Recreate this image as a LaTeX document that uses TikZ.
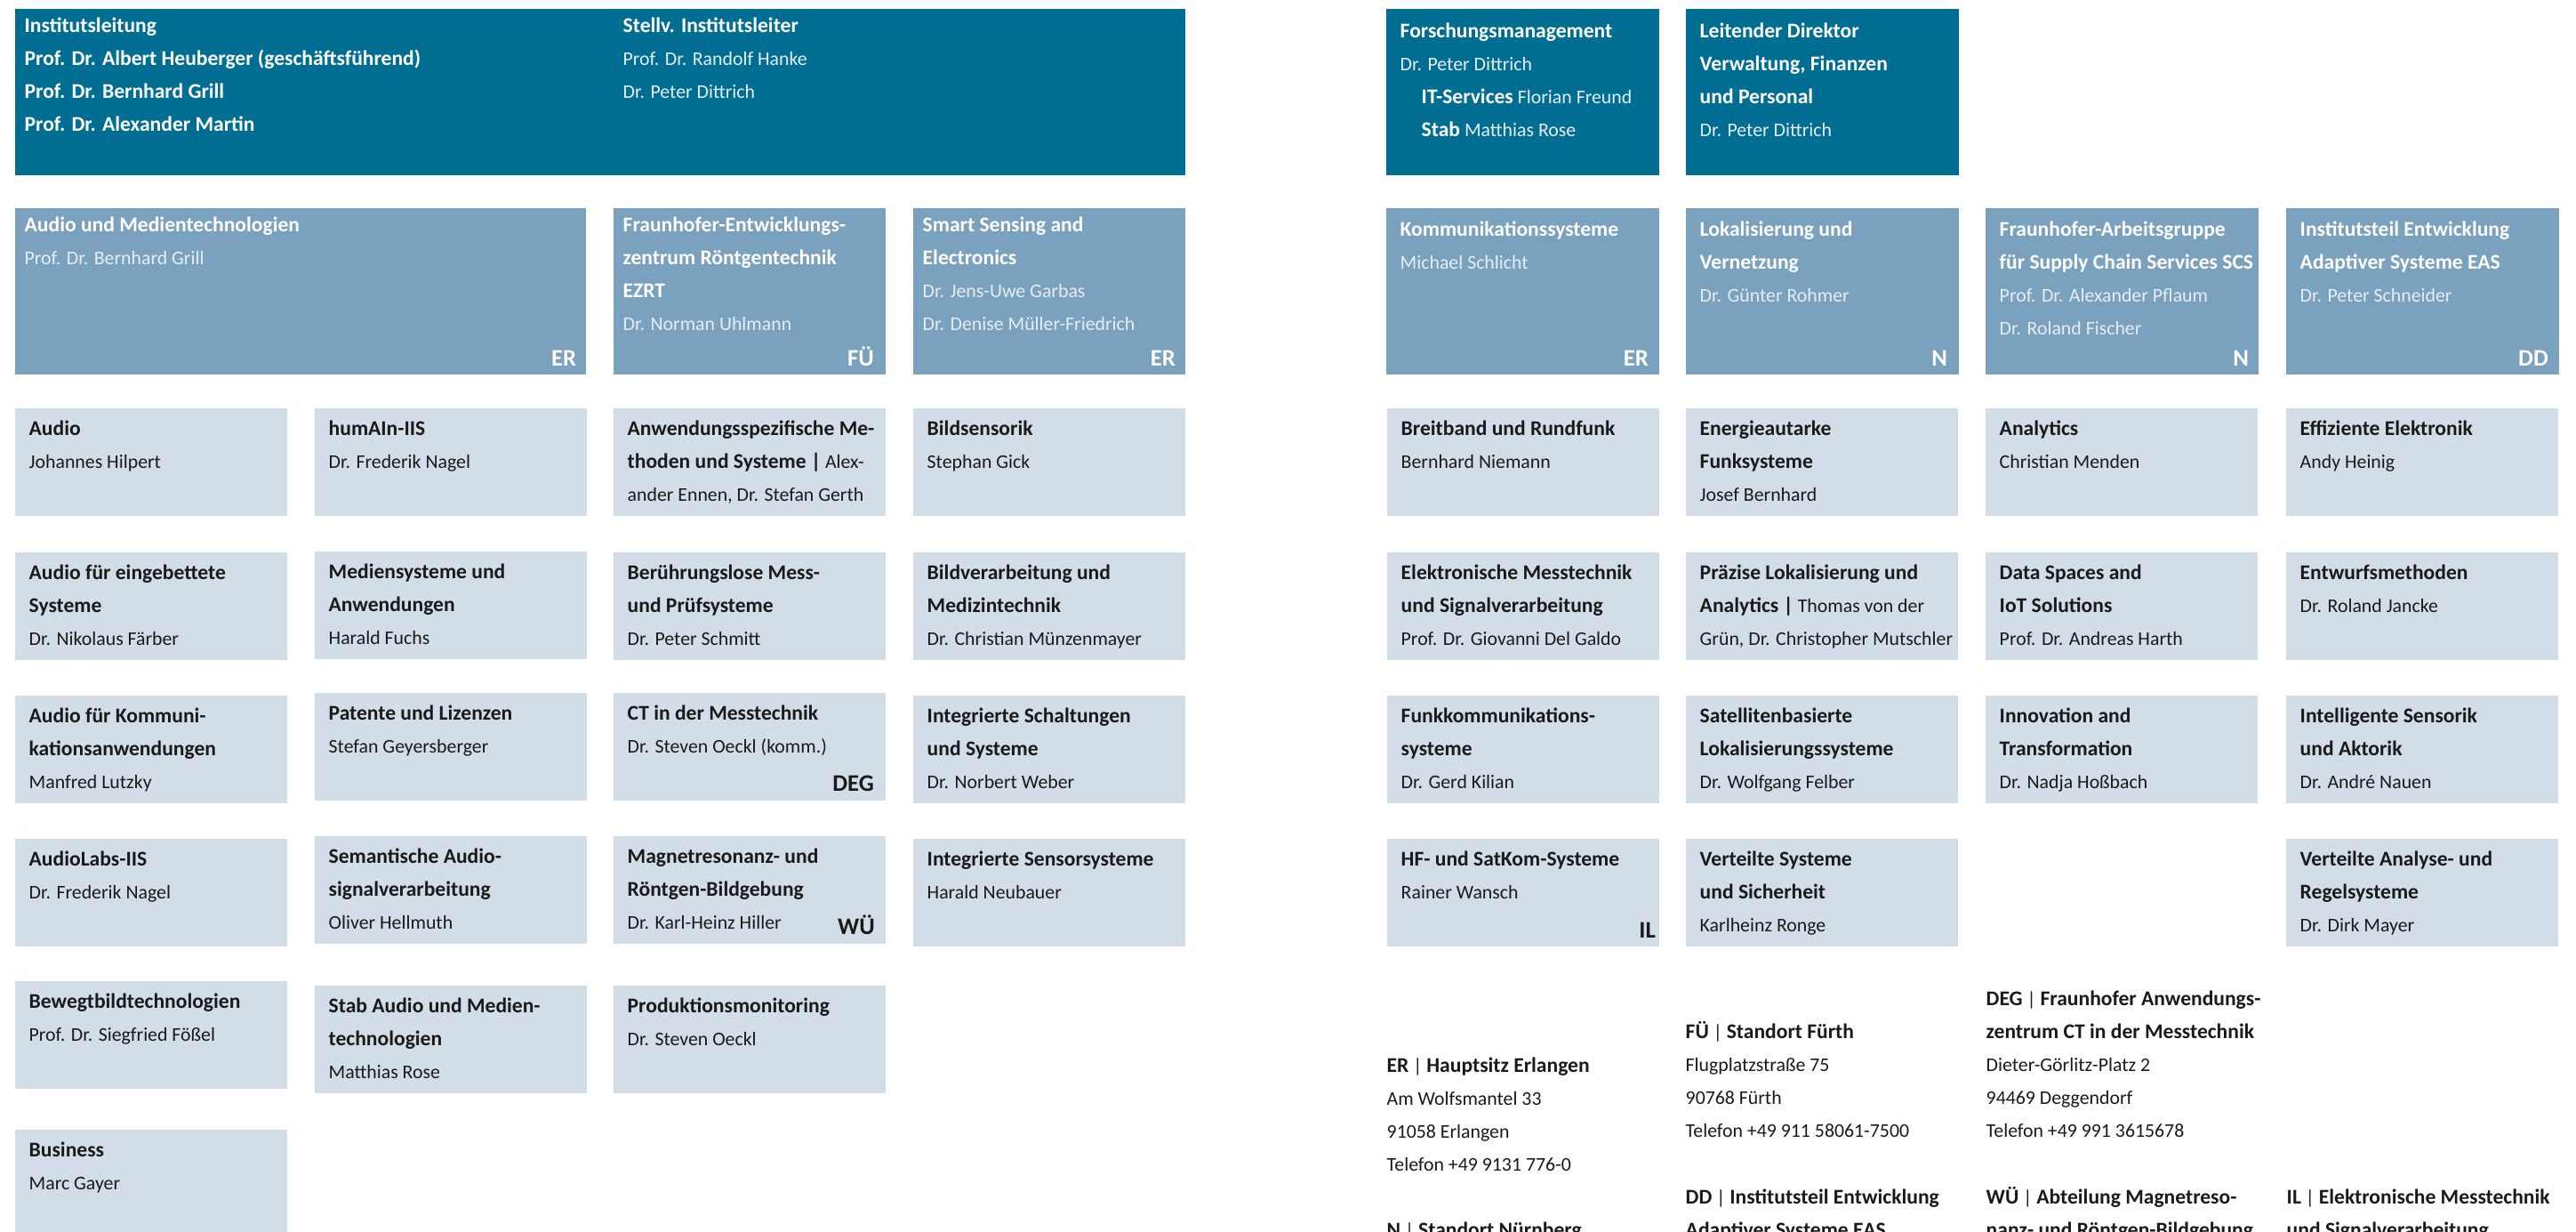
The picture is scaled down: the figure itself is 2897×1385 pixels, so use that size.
\documentclass[tikz,border=0pt]{standalone}
\usepackage{fontspec}
\setmainfont{Carlito}
\usetikzlibrary{positioning}

\definecolor{iisdunkel}{HTML}{006E92}
\definecolor{iismittel}{HTML}{7AA1BD}
\definecolor{iishell}{HTML}{D3DDE8}
\definecolor{iisname}{HTML}{E6EDF3}
\definecolor{iistext}{HTML}{1A1A1A}

\tikzstyle{leitung} = [rectangle, fill=iisdunkel, anchor=north west, inner sep=0pt, minimum width=3.07cm, minimum height=1.87cm]
\tikzstyle{bereich} = [rectangle, fill=iismittel, anchor=north west, inner sep=0pt, minimum width=3.07cm, minimum height=1.87cm]
\tikzstyle{abteilung} = [rectangle, fill=iishell, anchor=north west, inner sep=0pt, minimum width=3.06cm, minimum height=1.21cm]
\tikzstyle{schrift} = [anchor=north west, inner sep=0pt, align=left, font=\fontsize{6.2}{10.5}\selectfont]
\tikzstyle{ort} = [anchor=base east, inner sep=0pt, font=\fontsize{7.6}{9}\selectfont\bfseries]

% first baseline 0.22cm below the top of a text node
\newcommand{\zeile}{\rule{0pt}{0.22cm}}
\newcommand{\fett}[1]{{\fontsize{6.7}{10.5}\selectfont\bfseries #1}}
\newcommand{\hellname}[1]{{\color{iisname}#1}}
% Abteilung: Name, x, y, Text
\newcommand{\abteil}[4]{%
  \node (#1) [abteilung] at (#2,#3) {};
  \node (#1-t) [schrift, text=iistext] at ([shift={(16,9)}]#1.north west) {\zeile #4};}

\begin{document}
\begin{tikzpicture}[x=0.01cm, y=-0.01cm]
\useasboundingbox (0,0) rectangle (2897,1385);

% Leitung
\node (leitung) [leitung, minimum width=13.16cm] at (16,9) {};
\node (leitung-t) [schrift, text=white] at ([shift={(11,5)}]leitung.north west) {\zeile\fett{Institutsleitung}\\\fett{Prof. Dr. Albert Heuberger (geschäftsführend)}\\\fett{Prof. Dr. Bernhard Grill}\\\fett{Prof. Dr. Alexander Martin}};
\node (stellv-t) [schrift, text=white] at ([shift={(684,5)}]leitung.north west) {\zeile\fett{Stellv. Institutsleiter}\\\hellname{Prof. Dr. Randolf Hanke}\\\hellname{Dr. Peter Dittrich}};
\node (forschung) [leitung] at (1558,9) {};
\node (forschung-t) [schrift, text=white] at ([shift={(16,11)}]forschung.north west) {\zeile\fett{Forschungsmanagement}\\\hellname{Dr. Peter Dittrich}\\\hspace*{0.24cm}\fett{IT-Services} \hellname{Florian Freund}\\\hspace*{0.24cm}\fett{Stab} \hellname{Matthias Rose}};
\node (verwaltung) [leitung] at (1895,9) {};
\node (verwaltung-t) [schrift, text=white] at ([shift={(16,11)}]verwaltung.north west) {\zeile\fett{Leitender Direktor}\\\fett{Verwaltung, Finanzen}\\\fett{und Personal}\\\hellname{Dr. Peter Dittrich}};

% Bereiche
\node (audiomedien) [bereich, minimum width=6.42cm] at (16,233) {};
\node (audiomedien-t) [schrift, text=white] at ([shift={(11,5)}]audiomedien.north west) {\zeile\fett{Audio und Medientechnologien}\\\hellname{Prof. Dr. Bernhard Grill}};
\node (ezrt) [bereich, minimum width=3.06cm] at (689,233) {};
\node (ezrt-t) [schrift, text=white] at ([shift={(11,5)}]ezrt.north west) {\zeile\fett{Fraunhofer-Entwicklungs-}\\\fett{zentrum Röntgentechnik}\\\fett{EZRT}\\\hellname{Dr. Norman Uhlmann}};
\node (smart) [bereich, minimum width=3.06cm] at (1026,233) {};
\node (smart-t) [schrift, text=white] at ([shift={(11,5)}]smart.north west) {\zeile\fett{Smart Sensing and}\\\fett{Electronics}\\\hellname{Dr. Jens-Uwe Garbas}\\\hellname{Dr. Denise Müller-Friedrich}};
\node (komm) [bereich] at (1558,233) {};
\node (komm-t) [schrift, text=white] at ([shift={(16,10)}]komm.north west) {\zeile\fett{Kommunikationssysteme}\\\hellname{Michael Schlicht}};
\node (lokal) [bereich] at (1895,233) {};
\node (lokal-t) [schrift, text=white] at ([shift={(16,10)}]lokal.north west) {\zeile\fett{Lokalisierung und}\\\fett{Vernetzung}\\\hellname{Dr. Günter Rohmer}};
\node (scs) [bereich] at (2232,233) {};
\node (scs-t) [schrift, text=white] at ([shift={(16,10)}]scs.north west) {\zeile\fett{Fraunhofer-Arbeitsgruppe}\\\fett{für Supply Chain Services SCS}\\\hellname{Prof. Dr. Alexander Pflaum}\\\hellname{Dr. Roland Fischer}};
\node (eas) [bereich] at (2570,233) {};
\node (eas-t) [schrift, text=white] at ([shift={(16,10)}]eas.north west) {\zeile\fett{Institutsteil Entwicklung}\\\fett{Adaptiver Systeme EAS}\\\hellname{Dr. Peter Schneider}};

\node (audiomedien-ort) [ort, text=white] at ([shift={(-11,-10)}]audiomedien.south east) {ER};
\node (ezrt-ort) [ort, text=white] at ([shift={(-13,-10)}]ezrt.south east) {FÜ};
\node (smart-ort) [ort, text=white] at ([shift={(-11,-10)}]smart.south east) {ER};
\node (komm-ort) [ort, text=white] at ([shift={(-12,-10)}]komm.south east) {ER};
\node (lokal-ort) [ort, text=white] at ([shift={(-13,-10)}]lokal.south east) {N};
\node (scs-ort) [ort, text=white] at ([shift={(-11,-10)}]scs.south east) {N};
\node (eas-ort) [ort, text=white] at ([shift={(-12,-10)}]eas.south east) {DD};

% Abteilungen Audio und Medien
\abteil{audio}{16}{458}{\fett{Audio}\\Johannes Hilpert}
\abteil{eingebettet}{16}{620}{\fett{Audio für eingebettete}\\\fett{Systeme}\\Dr. Nikolaus Färber}
\abteil{kommanw}{16}{781}{\fett{Audio für Kommuni-}\\\fett{kationsanwendungen}\\Manfred Lutzky}
\abteil{audiolabs}{16}{942}{\fett{AudioLabs-IIS}\\Dr. Frederik Nagel}
\abteil{bewegtbild}{16}{1102}{\fett{Bewegtbildtechnologien}\\Prof. Dr. Siegfried Fößel}
\abteil{business}{16}{1269}{\fett{Business}\\Marc Gayer}
\abteil{humain}{353}{458}{\fett{humAIn-IIS}\\Dr. Frederik Nagel}
\abteil{mediensys}{353}{619}{\fett{Mediensysteme und}\\\fett{Anwendungen}\\Harald Fuchs}
\abteil{patente}{353}{778}{\fett{Patente und Lizenzen}\\Stefan Geyersberger}
\abteil{semantik}{353}{939}{\fett{Semantische Audio-}\\\fett{signalverarbeitung}\\Oliver Hellmuth}
\abteil{stabaudio}{353}{1107}{\fett{Stab Audio und Medien-}\\\fett{technologien}\\Matthias Rose}

% Abteilungen EZRT
\abteil{anwendung}{689}{458}{\fett{Anwendungsspezifische Me-}\\\fett{thoden und Systeme |} Alex-\\ander Ennen, Dr. Stefan Gerth}
\abteil{pruef}{689}{620}{\fett{Berührungslose Mess-}\\\fett{und Prüfsysteme}\\Dr. Peter Schmitt}
\abteil{ct}{689}{778}{\fett{CT in der Messtechnik}\\Dr. Steven Oeckl (komm.)}
\abteil{mr}{689}{939}{\fett{Magnetresonanz- und}\\\fett{Röntgen-Bildgebung}\\Dr. Karl-Heinz Hiller}
\abteil{produktion}{689}{1107}{\fett{Produktionsmonitoring}\\Dr. Steven Oeckl}
\node (ct-ort) [ort, text=iistext] at ([shift={(-13,-11)}]ct.south east) {DEG};
\node (mr-ort) [ort, text=iistext] at ([shift={(-12,-11)}]mr.south east) {WÜ};

% Abteilungen Smart Sensing
\abteil{bildsensor}{1026}{458}{\fett{Bildsensorik}\\Stephan Gick}
\abteil{bildverarb}{1026}{620}{\fett{Bildverarbeitung und}\\\fett{Medizintechnik}\\Dr. Christian Münzenmayer}
\abteil{schaltung}{1026}{781}{\fett{Integrierte Schaltungen}\\\fett{und Systeme}\\Dr. Norbert Weber}
\abteil{sensorsys}{1026}{942}{\fett{Integrierte Sensorsysteme}\\Harald Neubauer}

% Abteilungen Kommunikation
\abteil{breitband}{1559}{458}{\fett{Breitband und Rundfunk}\\Bernhard Niemann}
\abteil{messtechnik}{1559}{620}{\fett{Elektronische Messtechnik}\\\fett{und Signalverarbeitung}\\Prof. Dr. Giovanni Del Galdo}
\abteil{funkkomm}{1559}{781}{\fett{Funkkommunikations-}\\\fett{systeme}\\Dr. Gerd Kilian}
\abteil{hf}{1559}{942}{\fett{HF- und SatKom-Systeme}\\Rainer Wansch}
\node (hf-ort) [ort, text=iistext] at ([shift={(-4,-10)}]hf.south east) {IL};

% Abteilungen Lokalisierung
\abteil{energie}{1895}{458}{\fett{Energieautarke}\\\fett{Funksysteme}\\Josef Bernhard}
\abteil{praezise}{1895}{620}{\fett{Präzise Lokalisierung und}\\\fett{Analytics |} Thomas von der\\Grün, Dr. Christopher Mutschler}
\abteil{satellit}{1895}{781}{\fett{Satellitenbasierte}\\\fett{Lokalisierungssysteme}\\Dr. Wolfgang Felber}
\abteil{verteilt}{1895}{942}{\fett{Verteilte Systeme}\\\fett{und Sicherheit}\\Karlheinz Ronge}

% Abteilungen SCS
\abteil{analytics}{2232}{458}{\fett{Analytics}\\Christian Menden}
\abteil{dataspaces}{2232}{620}{\fett{Data Spaces and}\\\fett{IoT Solutions}\\Prof. Dr. Andreas Harth}
\abteil{innovation}{2232}{781}{\fett{Innovation and}\\\fett{Transformation}\\Dr. Nadja Hoßbach}

% Abteilungen EAS
\abteil{effizient}{2570}{458}{\fett{Effiziente Elektronik}\\Andy Heinig}
\abteil{entwurf}{2570}{620}{\fett{Entwurfsmethoden}\\Dr. Roland Jancke}
\abteil{intsensorik}{2570}{781}{\fett{Intelligente Sensorik}\\\fett{und Aktorik}\\Dr. André Nauen}
\abteil{regelsys}{2570}{942}{\fett{Verteilte Analyse- und}\\\fett{Regelsysteme}\\Dr. Dirk Mayer}

% Standorte
\node (er-adr) [schrift, text=iistext] at (1559,1183) {\zeile\fett{ER} | \fett{Hauptsitz Erlangen}\\Am Wolfsmantel 33\\91058 Erlangen\\Telefon +49 9131 776-0};
\node (n-adr) [schrift, text=iistext] at (1559,1368) {\zeile\fett{N} | \fett{Standort Nürnberg}};
\node (fue-adr) [schrift, text=iistext] at (1895,1145) {\zeile\fett{FÜ} | \fett{Standort Fürth}\\Flugplatzstraße 75\\90768 Fürth\\Telefon +49 911 58061-7500};
\node (dd-adr) [schrift, text=iistext] at (1895,1331) {\zeile\fett{DD} | \fett{Institutsteil Entwicklung}\\\fett{Adaptiver Systeme EAS}};
\node (deg-adr) [schrift, text=iistext] at (2233,1108) {\zeile\fett{DEG} | \fett{Fraunhofer Anwendungs-}\\\fett{zentrum CT in der Messtechnik}\\Dieter-Görlitz-Platz 2\\94469 Deggendorf\\Telefon +49 991 3615678};
\node (wue-adr) [schrift, text=iistext] at (2233,1331) {\zeile\fett{WÜ} | \fett{Abteilung Magnetreso-}\\\fett{nanz- und Röntgen-Bildgebung}};
\node (il-adr) [schrift, text=iistext] at (2571,1331) {\zeile\fett{IL} | \fett{Elektronische Messtechnik}\\\fett{und Signalverarbeitung}};
\end{tikzpicture}
\end{document}
